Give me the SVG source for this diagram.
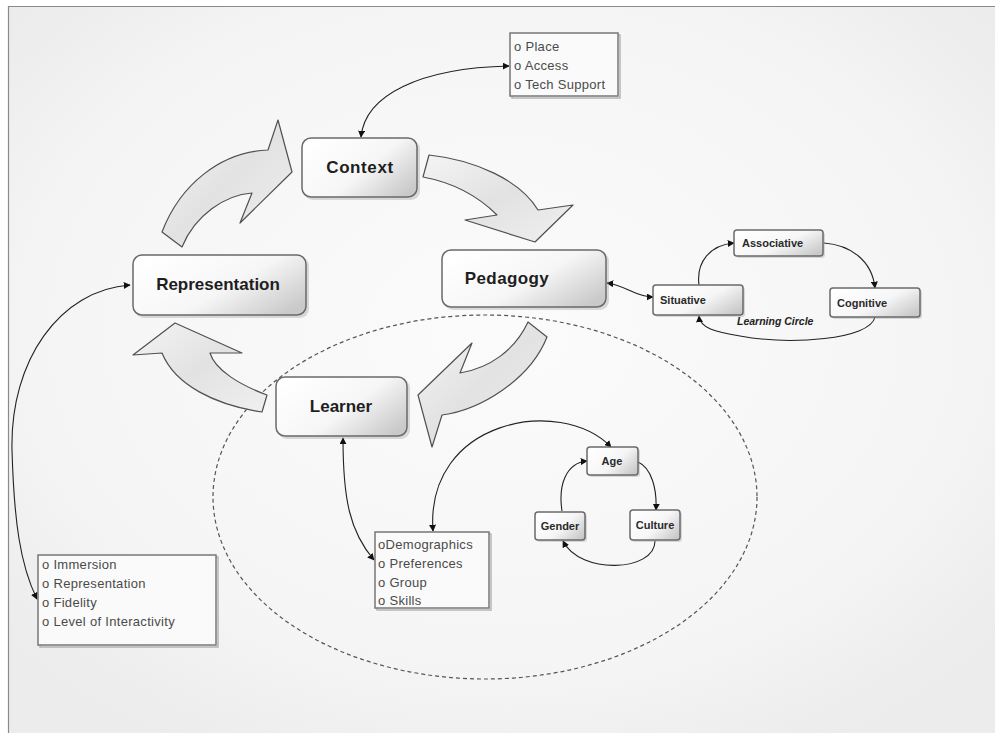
<svg xmlns="http://www.w3.org/2000/svg" width="995" height="733" viewBox="0 0 995 733">
  <defs>
    <radialGradient id="bg" cx="0.5" cy="0.45" r="0.65">
      <stop offset="0" stop-color="#fbfbfb"/>
      <stop offset="0.7" stop-color="#f5f5f5"/>
      <stop offset="1" stop-color="#ececec"/>
    </radialGradient>
    <linearGradient id="nodeFill" x1="0" y1="0.2" x2="1" y2="0.8">
      <stop offset="0" stop-color="#ffffff"/>
      <stop offset="0.55" stop-color="#f6f6f6"/>
      <stop offset="1" stop-color="#c9c9c9"/>
    </linearGradient>
    <linearGradient id="bigArrowFill" x1="0" y1="0" x2="1" y2="1">
      <stop offset="0" stop-color="#f4f4f4"/>
      <stop offset="0.5" stop-color="#e2e2e2"/>
      <stop offset="1" stop-color="#f0f0f0"/>
    </linearGradient>
    <marker id="tip" viewBox="0 0 10 10" refX="9" refY="5" markerWidth="7" markerHeight="7" orient="auto-start-reverse" markerUnits="userSpaceOnUse">
      <path d="M0,0 L10,5 L0,10 Z" fill="#111"/>
    </marker>
    <style>
      .node rect.box { fill: url(#nodeFill); stroke: #6a6a6a; stroke-width: 1.5; }
      .node rect.shade { fill: #9a9a9a; opacity: 0.35; }
      .big { font-family: "Liberation Sans", Arial, sans-serif; font-weight: bold; font-size: 17px; fill: #1e1e1e; text-anchor: middle; }
      .small { font-family: "Liberation Sans", Arial, sans-serif; font-weight: bold; font-size: 11px; fill: #2a2a2a; }
      .list rect { fill: #fafafa; stroke: #777; stroke-width: 1.5; }
      .list text { font-family: "Liberation Sans", Arial, sans-serif; font-size: 13px; fill: #4a4a4a; letter-spacing: 0.3px; }
      .conn path { fill: none; stroke: #222; stroke-width: 1.1; }
      .blockArrow { fill: url(#bigArrowFill); stroke: #505050; stroke-width: 1.2; stroke-linejoin: round; }
    </style>
  </defs>

  <!-- page background and frame -->
  <rect x="0" y="0" width="995" height="733" fill="#ffffff"/>
  <rect x="8" y="6" width="987" height="727" fill="url(#bg)"/>
  <line x1="8" y1="6.5" x2="995" y2="6.5" stroke="#8a8a8a" stroke-width="1.2"/>
  <line x1="8.5" y1="6" x2="8.5" y2="733" stroke="#8a8a8a" stroke-width="1.2"/>

  <!-- learner scope boundary -->
  <ellipse cx="485" cy="497" rx="272" ry="182" fill="none" stroke="#555" stroke-width="1.2" stroke-dasharray="4 3"/>

  <!-- cycle block arrows -->
  <g id="cycle-arrows">
    <path class="blockArrow" d="M162,232 C180,185 220,152 268,150 L278,120 L292,172 L240,223 L252,193 C225,195 195,215 182,247 Z"/>
    <path class="blockArrow" d="M429,155 C475,160 520,180 538,210 L573,205 L535,242 L465,220 L497,215 C480,198 455,183 423,177 Z"/>
    <path class="blockArrow" d="M528,322 C515,350 490,368 460,373 L472,343 L418,395 L432,447 L442,415 C480,410 530,380 547,337 Z"/>
    <path class="blockArrow" d="M267,395 C240,385 215,370 210,353 L242,353 L175,323 L133,355 L162,353 C175,385 215,405 262,412 Z"/>
  </g>

  <!-- connectors -->
  <g id="connectors" class="conn">
    <path d="M361,137 C365,95 420,68 509,66" marker-start="url(#tip)" marker-end="url(#tip)"/>
    <path d="M607,283 C625,285 635,297 653,297" marker-start="url(#tip)" marker-end="url(#tip)"/>
    <path d="M699,285 C696,262 710,245 734,243" marker-end="url(#tip)"/>
    <path d="M824,243 C850,245 872,260 875,288" marker-end="url(#tip)"/>
    <path d="M875,317 C870,340 790,345 740,336 C715,332 700,328 699,316" marker-end="url(#tip)"/>
    <path d="M130,285 C60,290 10,360 12,450 C14,520 20,565 37,599" marker-start="url(#tip)" marker-end="url(#tip)"/>
    <path d="M343,438 C343,500 350,532 374,560" marker-start="url(#tip)" marker-end="url(#tip)"/>
    <path d="M433,531 C425,420 560,395 611,447" marker-start="url(#tip)" marker-end="url(#tip)"/>
    <path d="M562,511 C558,485 566,463 587,461" marker-end="url(#tip)"/>
    <path d="M638,462 C652,468 657,490 656,510" marker-end="url(#tip)"/>
    <path d="M655,541 C655,572 580,575 563,541" marker-end="url(#tip)"/>
  </g>

  <!-- main cycle nodes -->
  <g id="context" class="node">
    <rect class="shade" x="304" y="140" width="116" height="60" rx="9"/>
    <rect class="box" x="302" y="138" width="115" height="59" rx="9"/>
    <text class="big" x="360" y="173" letter-spacing="0.6">Context</text>
  </g>
  <g id="representation" class="node">
    <rect class="shade" x="135" y="257" width="174" height="61" rx="9"/>
    <rect class="box" x="133" y="255" width="173" height="60" rx="9"/>
    <text class="big" x="218" y="290">Representation</text>
  </g>
  <g id="pedagogy" class="node">
    <rect class="shade" x="444" y="252" width="165" height="58" rx="9"/>
    <rect class="box" x="442" y="250" width="164" height="57" rx="9"/>
    <text class="big" x="507" y="284" letter-spacing="0.4">Pedagogy</text>
  </g>
  <g id="learner" class="node">
    <rect class="shade" x="278" y="379" width="132" height="60" rx="9"/>
    <rect class="box" x="276" y="377" width="131" height="59" rx="9"/>
    <text class="big" x="341" y="412">Learner</text>
  </g>

  <!-- learning circle -->
  <g id="associative" class="node">
    <rect class="shade" x="736" y="232" width="89" height="26" rx="3"/>
    <rect class="box" x="734" y="230" width="89" height="26" rx="3"/>
    <text class="small" x="742" y="247">Associative</text>
  </g>
  <g id="situative" class="node">
    <rect class="shade" x="655" y="287" width="90" height="30" rx="3"/>
    <rect class="box" x="653" y="285" width="90" height="30" rx="3"/>
    <text class="small" x="660" y="304">Situative</text>
  </g>
  <g id="cognitive" class="node">
    <rect class="shade" x="832" y="290" width="90" height="29" rx="3"/>
    <rect class="box" x="830" y="288" width="90" height="29" rx="3"/>
    <text class="small" x="837" y="307">Cognitive</text>
  </g>
  <text x="737" y="325" font-family="Liberation Sans, Arial, sans-serif" font-size="10.5" font-weight="bold" font-style="italic" fill="#222">Learning Circle</text>

  <!-- learner traits -->
  <g id="age" class="node">
    <rect class="shade" x="589" y="449" width="51" height="28" rx="3"/>
    <rect class="box" x="587" y="447" width="51" height="28" rx="3"/>
    <text class="small" x="612" y="465" text-anchor="middle" font-size="10.5">Age</text>
  </g>
  <g id="gender" class="node">
    <rect class="shade" x="537" y="514" width="50" height="28" rx="3"/>
    <rect class="box" x="535" y="512" width="50" height="28" rx="3"/>
    <text class="small" x="560" y="530" text-anchor="middle" font-size="10">Gender</text>
  </g>
  <g id="culture" class="node">
    <rect class="shade" x="632" y="512" width="50" height="30" rx="3"/>
    <rect class="box" x="630" y="510" width="50" height="30" rx="3"/>
    <text class="small" x="655" y="529" text-anchor="middle" font-size="10">Culture</text>
  </g>

  <!-- attribute lists -->
  <g id="context-list" class="list">
    <rect x="512" y="35" width="108" height="63" fill="#bbb" stroke="none" opacity="0.5"/>
    <rect x="510" y="33" width="108" height="63"/>
    <text x="514" y="51">o Place</text>
    <text x="514" y="70">o Access</text>
    <text x="514" y="89">o Tech Support</text>
  </g>
  <g id="learner-list" class="list">
    <rect x="377" y="534" width="114" height="76" fill="#bbb" stroke="none" opacity="0.5"/>
    <rect x="375" y="532" width="114" height="76"/>
    <text x="378" y="549">oDemographics</text>
    <text x="378" y="568">o Preferences</text>
    <text x="378" y="587">o Group</text>
    <text x="378" y="605">o Skills</text>
  </g>
  <g id="representation-list" class="list">
    <rect x="40" y="557" width="178" height="90" fill="#bbb" stroke="none" opacity="0.5"/>
    <rect x="38" y="555" width="178" height="90"/>
    <text x="42" y="569">o Immersion</text>
    <text x="42" y="588">o Representation</text>
    <text x="42" y="607">o Fidelity</text>
    <text x="42" y="626">o Level of Interactivity</text>
  </g>
</svg>
